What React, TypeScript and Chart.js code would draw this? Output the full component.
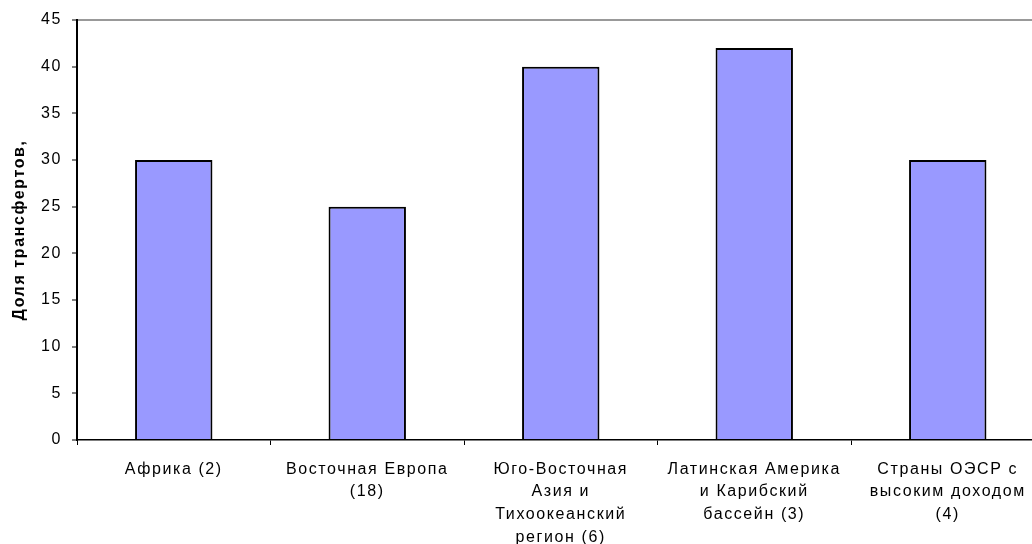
import React, { useEffect, useRef } from "react";
import { Chart, registerables } from "chart.js";

Chart.register(...registerables);

const categories: string[][] = [
  ["Африка (2)"],
  ["Восточная Европа", "(18)"],
  ["Юго-Восточная", "Азия и", "Тихоокеанский", "регион (6)"],
  ["Латинская Америка", "и Карибский", "бассейн (3)"],
  ["Страны ОЭСР с", "высоким доходом", "(4)"],
];
const values: number[] = [30, 25, 40, 42, 30];
const yTitle = "Доля трансфертов,";

const CW = 1062;
const CH = 544;
const PLOT_LEFT = 77;
const PLOT_RIGHT = 1044.5;
const LS = "1.6px";

export default function App() {
  const ref = useRef<HTMLCanvasElement | null>(null);

  useEffect(() => {
    if (!ref.current) return;
    const c2d = ref.current.getContext("2d") as any;
    if (c2d) c2d.letterSpacing = LS;
    const spacing = {
      id: "spacing",
      beforeInit(chart: any) {
        (chart.ctx as any).letterSpacing = LS;
      },
      beforeDraw(chart: any) {
        (chart.ctx as any).letterSpacing = LS;
      },
    };
    const chart = new Chart(ref.current, {
      type: "bar",
      data: {
        labels: categories,
        datasets: [
          {
            data: values,
            backgroundColor: "#9999FF",
            borderColor: "#000000",
            borderWidth: 2,
            barPercentage: 0.4,
            categoryPercentage: 1,
          },
        ],
      },
      options: {
        responsive: false,
        animation: false,
        devicePixelRatio: 1,
        layout: { padding: { left: 0, top: 20, right: CW - PLOT_RIGHT, bottom: 0 } },
        plugins: {
          legend: { display: false },
          tooltip: { enabled: false },
        },
        scales: {
          x: {
            grid: {
              offset: true,
              drawOnChartArea: false,
              drawTicks: true,
              tickLength: 5,
              tickColor: "#000000",
              tickWidth: 1,
            },
            border: { color: "#000000", width: 1.5 },
            ticks: {
              color: "#000000",
              maxRotation: 0,
              autoSkip: false,
              padding: 13,
              font: { family: "'Liberation Sans', Arial, sans-serif", size: 16, lineHeight: 1.42 },
            },
            afterFit(scale: any) {
              scale.height = CH - 440;
            },
          },
          y: {
            min: 0,
            max: 45,
            ticks: {
              stepSize: 5,
              color: "#000000",
              padding: 10,
              font: { family: "'Liberation Sans', Arial, sans-serif", size: 16 },
            },
            grid: {
              drawTicks: true,
              tickLength: 5,
              tickColor: "#808080",
              color: (ctx: any) => (ctx.tick && ctx.tick.value === 45 ? "#999999" : "rgba(0,0,0,0)"),
              lineWidth: 2,
            },
            border: { color: "#000000", width: 2 },
            title: {
              display: true,
              text: yTitle,
              color: "#000000",
              padding: { top: 10, bottom: 0 },
              font: { family: "'Liberation Sans', Arial, sans-serif", size: 16, weight: "bold" },
            },
            afterFit(scale: any) {
              scale.width = PLOT_LEFT;
            },
          },
        },
      },
      plugins: [spacing],
    } as any);
    return () => chart.destroy();
  }, []);

  return (
    <div
      style={{
        position: "fixed",
        left: 0,
        top: 0,
        width: 1032,
        height: 544,
        overflow: "hidden",
        background: "#ffffff",
      }}
    >
      <canvas ref={ref} width={CW} height={CH} style={{ width: CW, height: CH, display: "block" }} />
    </div>
  );
}
